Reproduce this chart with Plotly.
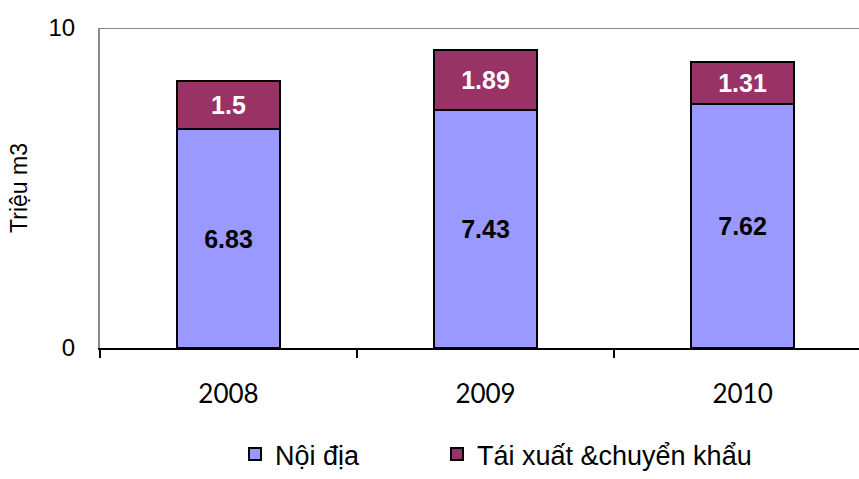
import plotly.graph_objects as go

years = ["2008", "2009", "2010"]
noi_dia = [6.83, 7.43, 7.62]
tai_xuat = [1.5, 1.89, 1.31]
series_names = ["Nội địa", "Tái xuất &chuyển khẩu"]
y_title = "Triệu m3"

fig = go.Figure()
fig.add_trace(go.Bar(
    x=years, y=noi_dia, name=series_names[0],
    marker=dict(color="#9999FF", line=dict(color="black", width=2)),
    width=0.4, legend="legend",
    text=[f"{v:g}" for v in noi_dia], textposition="inside", insidetextanchor="middle",
    textfont=dict(family="Arial", size=25, color="black", weight="bold"),
    textangle=0,
))
fig.add_trace(go.Bar(
    x=years, y=tai_xuat, name=series_names[1],
    marker=dict(color="#993366", line=dict(color="black", width=2)),
    width=0.4, legend="legend2",
    text=[f"{v:g}" for v in tai_xuat], textposition="inside", insidetextanchor="middle",
    textfont=dict(family="Arial", size=25, color="white", weight="bold"),
    textangle=0,
))

legend_font = dict(family="Arial", size=27, color="black")
fig.update_layout(
    barmode="stack",
    width=859, height=479,
    margin=dict(l=100, r=0, t=28, b=131),
    plot_bgcolor="white", paper_bgcolor="white",
    font=dict(family="Arial", color="black"),
    showlegend=True,
    legend=dict(orientation="h", xref="container", yref="container",
                x=235 / 859, xanchor="left", y=0, yanchor="bottom",
                font=legend_font, itemwidth=30),
    legend2=dict(orientation="h", xref="container", yref="container",
                 x=437 / 859, xanchor="left", y=0, yanchor="bottom",
                 font=legend_font, itemwidth=30),
    xaxis=dict(range=[-0.5, 2.453], showline=True, linecolor="black", linewidth=2,
               ticks="outside", tickson="boundaries", ticklen=8, tickcolor="black", tickwidth=2,
               tickfont=dict(family="Lato", size=26, color="black"),
               ticklabelstandoff=22, showgrid=False, zeroline=False),
    yaxis=dict(range=[0, 10], tickvals=[0, 10], showline=True, linecolor="#888888", linewidth=2,
               ticks="", showgrid=False, zeroline=False,
               tickfont=dict(family="Arial", size=24, color="black"), ticklabelstandoff=18,
               title=dict(text=y_title, font=dict(family="Arial", size=23, color="black"), standoff=14)),
    shapes=[dict(type="line", xref="paper", yref="y", x0=0, x1=1, y0=10, y1=10,
                 line=dict(color="#888888", width=2))],
)

fig.write_html("out.html", config={"displayModeBar": False},
               post_script="document.body.style.margin='0px';")
